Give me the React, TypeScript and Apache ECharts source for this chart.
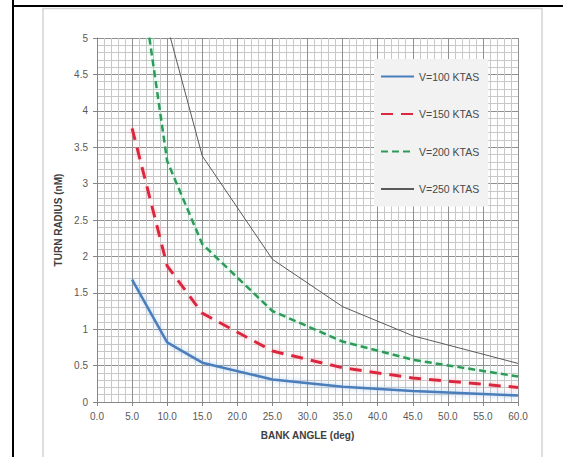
import React, { useEffect, useRef } from "react";
import * as echarts from "echarts";

const bankAngles = [5, 10, 15, 25, 35, 45, 60];
const seriesNames = ["V=100 KTAS", "V=150 KTAS", "V=200 KTAS", "V=250 KTAS"];
const v100 = [1.68, 0.82, 0.54, 0.31, 0.21, 0.15, 0.09];
const v150 = [3.76, 1.87, 1.22, 0.7, 0.47, 0.33, 0.2];
const v200 = [6.65, 3.31, 2.17, 1.25, 0.83, 0.58, 0.35];
const v250 = [10.4, 5.17, 3.38, 1.96, 1.31, 0.91, 0.53];
const xTitle = "BANK ANGLE (deg)";
const yTitle = "TURN RADIUS (nM)";

const FONT = "'Liberation Sans', Arial, sans-serif";

function pairs(vals: number[]) {
  return bankAngles.map((x, i) => [x, vals[i]]);
}

export default function App() {
  const ref = useRef<HTMLDivElement>(null);
  useEffect(() => {
    if (!ref.current) return;
    const chart = echarts.init(ref.current, undefined, { renderer: "svg" });
    const mk = (
      name: string,
      vals: number[],
      color: string,
      width: number,
      type: any,
      glow: string
    ) => ({
      name,
      type: "line",
      data: pairs(vals),
      symbol: "none",
      clip: true,
      lineStyle: {
        color,
        width,
        type,
        shadowColor: glow,
        shadowBlur: 5,
      },
      itemStyle: { color },
      z: 3,
    });
    chart.setOption({
      animation: false,
      backgroundColor: "#ffffff",
      textStyle: { fontFamily: FONT },
      graphic: [
        {
          type: "rect",
          shape: { x: 43, y: 8.5, width: 499, height: 460 },
          style: { fill: "#ffffff", stroke: "#d4d4d4", lineWidth: 1.5 },
          z: -10,
        },
        {
          type: "line",
          shape: { x1: 13, y1: 0, x2: 13, y2: 457 },
          style: { stroke: "#000000", lineWidth: 2 },
        },
        {
          type: "line",
          shape: { x1: 12, y1: 6, x2: 563, y2: 6 },
          style: { stroke: "#000000", lineWidth: 2 },
        },
      ],
      grid: { left: 97, top: 38, right: 45, bottom: 55, containLabel: false },
      legend: {
        orient: "vertical",
        left: 374,
        top: 59,
        data: seriesNames,
        backgroundColor: "#f2f2f2",
        padding: [12, 9, 12, 6],
        itemWidth: 33,
        itemHeight: 12,
        itemGap: 26.5,
        itemStyle: { opacity: 0 },
        textStyle: { fontSize: 10.5, color: "#4a4a4a", fontFamily: FONT },
      },
      xAxis: {
        type: "value",
        min: 0,
        max: 60,
        interval: 5,
        name: xTitle,
        nameLocation: "middle",
        nameGap: 28,
        nameTextStyle: { fontSize: 10, fontWeight: "bold", color: "#404040", fontFamily: FONT },
        axisLine: { show: true, lineStyle: { color: "#868686" } },
        axisTick: { show: true, length: 4, lineStyle: { color: "#868686" } },
        axisLabel: {
          fontSize: 10,
          color: "#595959",
          margin: 9,
          formatter: (v: number) => v.toFixed(1),
        },
        splitLine: { show: true, lineStyle: { color: "#8f8f8f", width: 1 } },
        minorTick: { show: false, splitNumber: 5 },
        minorSplitLine: { show: true, lineStyle: { color: "#c8c8c8", width: 1 } },
      },
      yAxis: {
        type: "value",
        min: 0,
        max: 5,
        interval: 0.5,
        name: yTitle,
        nameLocation: "middle",
        nameGap: 34,
        nameRotate: 90,
        nameTextStyle: { fontSize: 10, fontWeight: "bold", color: "#404040", fontFamily: FONT },
        axisLine: { show: true, lineStyle: { color: "#868686" } },
        axisTick: { show: true, length: 4, lineStyle: { color: "#868686" } },
        axisLabel: { fontSize: 10, color: "#595959", margin: 9 },
        splitLine: { show: true, lineStyle: { color: "#8f8f8f", width: 1 } },
        minorTick: { show: false, splitNumber: 5 },
        minorSplitLine: { show: true, lineStyle: { color: "#c8c8c8", width: 1 } },
      },
      series: [
        mk(seriesNames[0], v100, "#4a7ebb", 2.5, "solid", "rgba(120,170,230,0.6)"),
        mk(seriesNames[1], v150, "#dc2840", 3, [12, 8], "rgba(240,140,150,0.6)"),
        mk(seriesNames[2], v200, "#2e9a55", 2.5, [7, 4], "rgba(120,230,190,0.6)"),
        mk(seriesNames[3], v250, "#5a5a5a", 1, "solid", "rgba(0,0,0,0)"),
      ],
    });
    return () => chart.dispose();
  }, []);
  return (
    <div
      ref={ref}
      style={{ position: "absolute", left: 0, top: 0, width: 563, height: 457 }}
    />
  );
}
